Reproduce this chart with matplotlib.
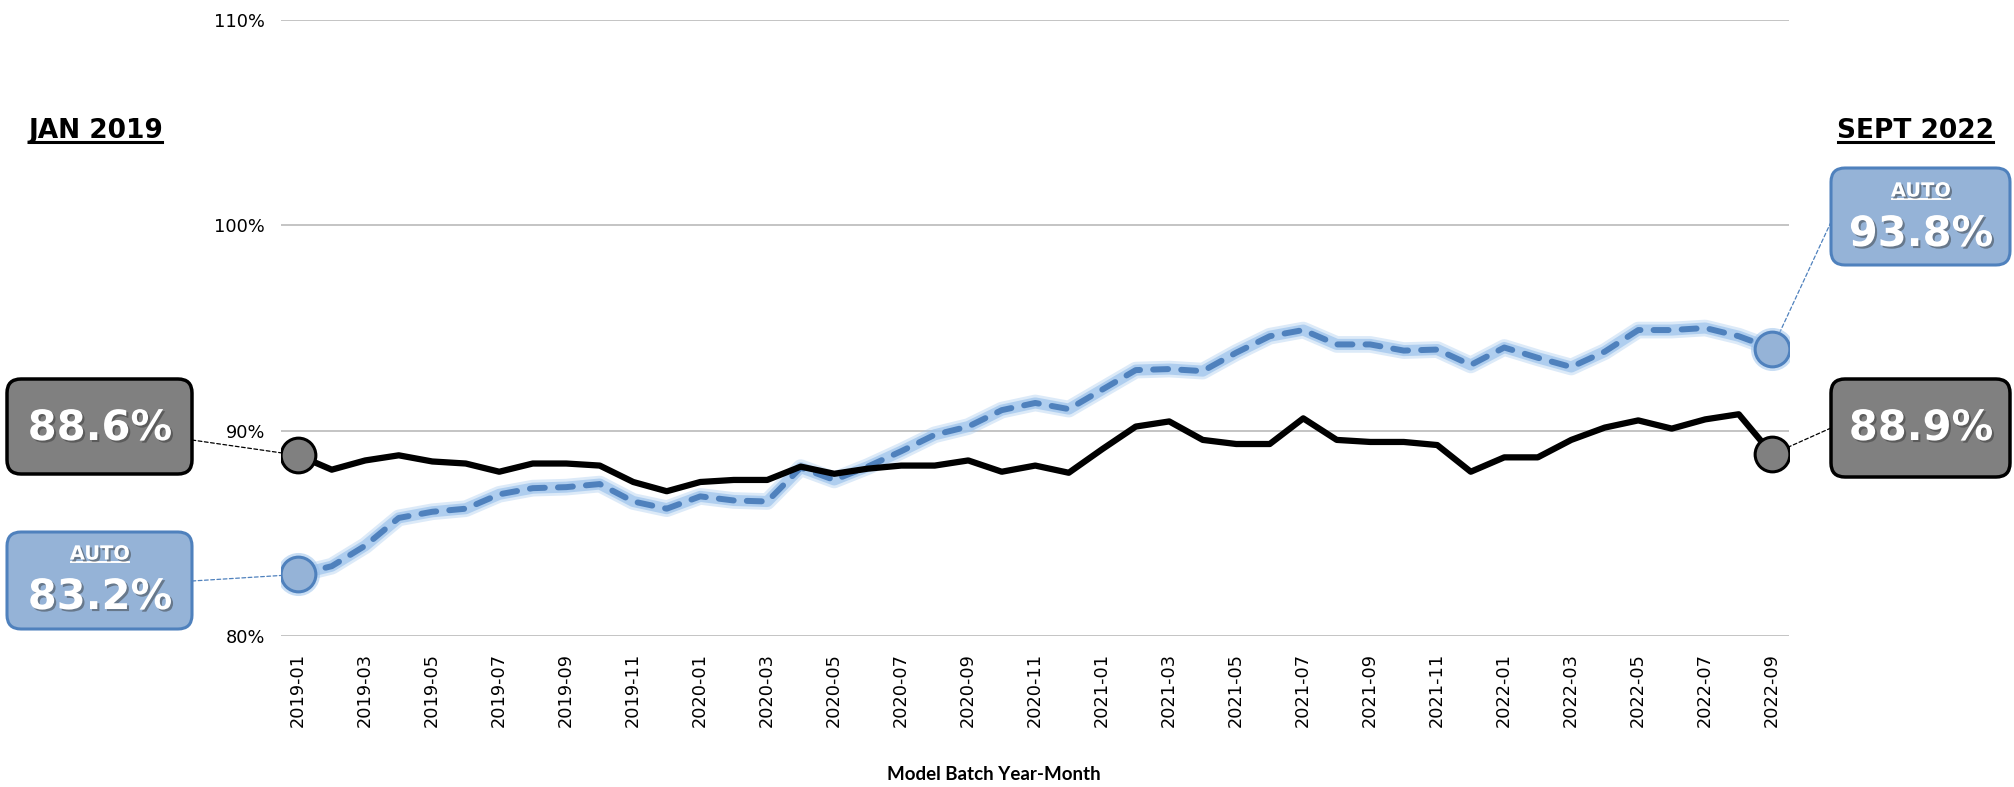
import numpy as np
import matplotlib
matplotlib.use('Agg')
import matplotlib.pyplot as plt
import matplotlib.patheffects as pe
from matplotlib.patches import FancyBboxPatch
from matplotlib.lines import Line2D
from matplotlib.transforms import IdentityTransform

# data (percent)
months = ['2019-01', '2019-02', '2019-03', '2019-04', '2019-05', '2019-06', '2019-07', '2019-08',
          '2019-09', '2019-10', '2019-11', '2019-12', '2020-01', '2020-02', '2020-03', '2020-04',
          '2020-05', '2020-06', '2020-07', '2020-08', '2020-09', '2020-10', '2020-11', '2020-12',
          '2021-01', '2021-02', '2021-03', '2021-04', '2021-05', '2021-06', '2021-07', '2021-08',
          '2021-09', '2021-10', '2021-11', '2021-12', '2022-01', '2022-02', '2022-03', '2022-04',
          '2022-05', '2022-06', '2022-07', '2022-08', '2022-09']
overall = [88.8, 88.1, 88.55, 88.8, 88.5, 88.4, 88.0, 88.4, 88.4, 88.3, 87.5, 87.05, 87.5, 87.6, 87.6,
           88.25, 87.9, 88.15, 88.3, 88.3, 88.55, 88.0, 88.3, 87.95, 89.1, 90.2, 90.45, 89.55, 89.35, 89.35,
           90.6, 89.55, 89.45, 89.45, 89.3, 88.0, 88.7, 88.7, 89.55, 90.15, 90.5, 90.1, 90.55, 90.8, 88.85]
auto = [83.0, 83.4, 84.4, 85.75, 86.05, 86.2, 86.9, 87.2, 87.25, 87.4, 86.55, 86.2, 86.8, 86.6, 86.55,
        88.2, 87.6, 88.25, 89.0, 89.8, 90.2, 91.0, 91.35, 91.05, 92.0, 92.95, 93.0, 92.9, 93.8, 94.6,
        94.9, 94.2, 94.2, 93.9, 93.95, 93.2, 94.05, 93.55, 93.1, 93.85, 94.9, 94.9, 95.0, 94.6, 94.0]
yticks = [80, 90, 100, 110]
start_title, end_title = 'JAN 2019', 'SEPT 2022'
start_overall, start_auto = '88.6%', '83.2%'
end_overall, end_auto = '88.9%', '93.8%'
auto_tag = 'AUTO'

BLUE = '#4F81BD'
LBLUE = '#95B3D7'
GLOW = '#9DC3EC'
GREY = '#808080'

W, H = 2015, 787
fig = plt.figure(figsize=(W / 100, H / 100), dpi=100)
fig.patch.set_facecolor('white')


def fx(px):
    return px / W


def fy(py):
    return 1 - py / H


ax = fig.add_axes([fx(281.5), fy(636), (1789 - 281.5) / W, (636 - 20) / H])

x = np.arange(len(months))

# auto line with soft glow
ax.plot(x, auto, color=GLOW, lw=12, alpha=0.35, solid_capstyle='round', solid_joinstyle='round', zorder=2)
ax.plot(x, auto, color=GLOW, lw=8, alpha=0.7, solid_capstyle='round', solid_joinstyle='round', zorder=2)
ax.plot(x, auto, color=BLUE, lw=4.3, dashes=(2.5, 2.2), dash_capstyle='round', zorder=3)
# overall line
ax.plot(x, overall, color='black', lw=4.5, zorder=4)

# end markers
ends = [0, len(months) - 1]
ax.plot(x[ends], [auto[i] for i in ends], 'o', ms=31, color=GLOW, alpha=0.55, mew=0, zorder=6)
ax.plot(x[ends], [auto[i] for i in ends], 'o', ms=25, mfc=LBLUE, mec=BLUE, mew=2.2, zorder=7)
ax.plot(x[ends], [overall[i] for i in ends], 'o', ms=25, mfc=GREY, mec='black', mew=2.2, zorder=7)

ax.set_xlim(-0.5, len(months) - 0.5)
ax.set_ylim(yticks[0], yticks[-1])
ax.set_yticks(yticks)
ax.set_yticklabels(['%d%%' % v for v in yticks])
ax.set_xticks(x[::2])
ax.set_xticklabels(months[::2], rotation=90)
ax.tick_params(axis='both', length=0, labelsize=12.8)
ax.tick_params(axis='x', pad=12)
ax.tick_params(axis='y', pad=12)
ax.yaxis.grid(True, color='#BFBFBF', lw=1.3)
ax.set_axisbelow(True)
for s in ax.spines.values():
    s.set_visible(False)

fig.text(fx(994), fy(775), 'Model Batch Year-Month', ha='center', va='center',
         fontsize=13.5, fontweight='bold', family=['Lato', 'DejaVu Sans'])

px = IdentityTransform()
shadow = [pe.withSimplePatchShadow(offset=(1.5, -1.5), shadow_rgbFace='#303030', alpha=0.45)]


def box(x0, y0, x1, y1, face, edge, lw):
    p = FancyBboxPatch((x0, H - y1), x1 - x0, y1 - y0,
                       boxstyle='round,pad=0,rounding_size=14',
                       transform=px, facecolor=face, edgecolor=edge, lw=lw, zorder=3)
    fig.add_artist(p)


def underlined(xc, yc, s, size, color, lw, effects=None):
    t = fig.text(fx(xc), fy(yc), s, ha='center', va='center', fontsize=size,
                 fontweight='bold', color=color, zorder=5, path_effects=effects)
    fig.canvas.draw()
    bb = t.get_window_extent()
    fig.add_artist(Line2D([bb.x0 + 1, bb.x1 - 1], [bb.y0 + 2, bb.y0 + 2], transform=px,
                          color=color, lw=lw, zorder=5))


# headers
underlined(96, 131, start_title, 19, 'black', 2.2)
underlined(1916, 131, end_title, 19, 'black', 2.2)

# left boxes
box(7, 379, 192, 474, GREY, 'black', 2.5)
fig.text(fx(100), fy(428), start_overall, ha='center', va='center', fontsize=30,
         fontweight='bold', color='white', zorder=5, path_effects=shadow)
box(7, 532, 192, 629, LBLUE, BLUE, 2.2)
underlined(100, 554, auto_tag, 14, 'white', 1.4, shadow)
fig.text(fx(100), fy(597), start_auto, ha='center', va='center', fontsize=30,
         fontweight='bold', color='white', zorder=5, path_effects=shadow)

# right boxes
box(1831, 168, 2010, 265, LBLUE, BLUE, 2.2)
underlined(1921, 191, auto_tag, 14, 'white', 1.4, shadow)
fig.text(fx(1921), fy(234), end_auto, ha='center', va='center', fontsize=30,
         fontweight='bold', color='white', zorder=5, path_effects=shadow)
box(1831, 379, 2010, 477, GREY, 'black', 2.5)
fig.text(fx(1921), fy(428), end_overall, ha='center', va='center', fontsize=30,
         fontweight='bold', color='white', zorder=5, path_effects=shadow)


# leader lines from boxes to end points
def leader(i, val, bx, by, color):
    ax.annotate('', xy=(i, val), xycoords='data', xytext=(fx(bx), fy(by)),
                textcoords='figure fraction', annotation_clip=False, zorder=5,
                arrowprops=dict(arrowstyle='-', color=color, lw=0.9, linestyle=(0, (3, 2)),
                                shrinkA=0, shrinkB=0))


leader(0, overall[0], 192, 440, 'black')
leader(0, auto[0], 192, 581, BLUE)
leader(len(months) - 1, auto[-1], 1831, 222, BLUE)
leader(len(months) - 1, overall[-1], 1831, 428, 'black')

fig.savefig('out.png', dpi=100, facecolor='white')
